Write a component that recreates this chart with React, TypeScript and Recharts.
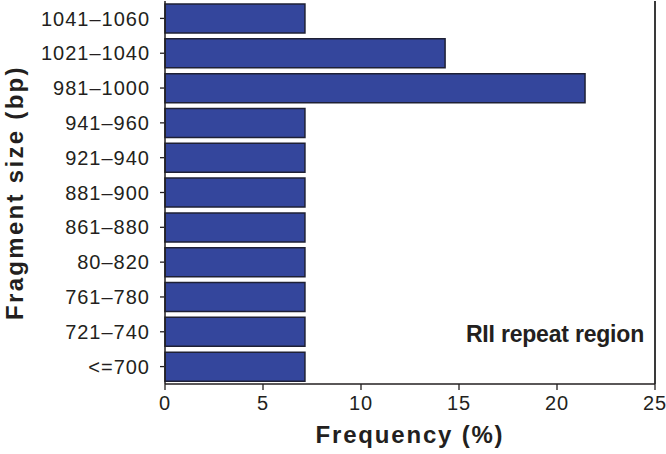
import React from 'react';
import { BarChart, Bar, XAxis, YAxis, ReferenceLine } from 'recharts';

const categories = ['1041–1060', '1021–1040', '981–1000', '941–960', '921–940', '881–900', '861–880', '80–820', '761–780', '721–740', '<=700'];
const frequency = [7.14, 14.29, 21.43, 7.14, 7.14, 7.14, 7.14, 7.14, 7.14, 7.14, 7.14];
const xMajorTicks = [0, 5, 10, 15, 20, 25];
const xMinorTicks = [0, 1, 2, 3, 4, 5, 6, 7, 8, 9, 10, 11, 12, 13, 14, 15, 16, 17, 18, 19, 20, 21, 22, 23, 24, 25];
const boundaryTicks = [0, 1, 2, 3, 4, 5, 6, 7, 8, 9, 10, 11];

const data = categories.map((c, i) => ({ range: c, freq: frequency[i] }));

const INK = '#231f20';
const FONT = '"Liberation Sans", Arial, Helvetica, sans-serif';

export default function App() {
  return (
    <div style={{ position: 'absolute', left: 0, top: 0, width: 666, height: 454, background: '#fff', fontFamily: FONT }}>
      <BarChart
        width={666}
        height={454}
        data={data}
        layout="vertical"
        margin={{ top: 1, right: 11, bottom: 0, left: 0 }}
      >
        <XAxis
          xAxisId="minor"
          type="number"
          domain={[0, 25]}
          ticks={xMinorTicks}
          height={1}
          axisLine={false}
          tick={false}
          tickSize={3}
          tickLine={{ stroke: INK, strokeWidth: 1.3 }}
        />
        <XAxis
          xAxisId="main"
          type="number"
          domain={[0, 25]}
          ticks={xMajorTicks}
          height={69}
          tickSize={6}
          tickMargin={6}
          axisLine={{ stroke: INK, strokeWidth: 1.5 }}
          tickLine={{ stroke: INK, strokeWidth: 1.3 }}
          tick={{ fill: INK, fontSize: 20, fontFamily: FONT, style: { letterSpacing: '1px' } }}
          label={{
            value: 'Frequency (%)',
            position: 'insideBottom',
            offset: 10,
            fill: INK,
            fontSize: 24,
            fontWeight: 'bold',
            fontFamily: FONT,
            style: { letterSpacing: '1.8px' },
          }}
        />
        <YAxis
          yAxisId="bnd"
          type="number"
          domain={[0, 11]}
          ticks={boundaryTicks}
          width={1}
          tick={false}
          tickSize={6}
          axisLine={{ stroke: INK, strokeWidth: 1.5 }}
          tickLine={{ stroke: INK, strokeWidth: 1.3 }}
        />
        <YAxis
          yAxisId="cat"
          type="category"
          dataKey="range"
          width={164}
          tickSize={4}
          tickMargin={10}
          axisLine={false}
          tickLine={{ stroke: INK, strokeWidth: 1.3 }}
          tick={{ fill: INK, fontSize: 20, fontFamily: FONT, style: { letterSpacing: '1px' } }}
          interval={0}
          label={{
            value: 'Fragment size (bp)',
            angle: -90,
            position: 'center',
            dx: -68,
            fill: INK,
            fontSize: 24,
            fontWeight: 'bold',
            fontFamily: FONT,
            style: { letterSpacing: '2.3px' },
          }}
        />
        <ReferenceLine x={25} xAxisId="main" yAxisId="cat" stroke="#3a3a3a" strokeWidth={2} />
        <ReferenceLine y={11} xAxisId="main" yAxisId="bnd" stroke="#3a3a3a" strokeWidth={2} />
        <Bar
          dataKey="freq"
          xAxisId="main"
          yAxisId="cat"
          barSize={29}
          fill="#34469c"
          stroke="#1e2035"
          strokeWidth={1.5}
          isAnimationActive={false}
        />
      </BarChart>
      <div
        style={{
          position: 'absolute',
          left: 0,
          top: 323,
          width: 644,
          textAlign: 'right',
          fontSize: 23,
          lineHeight: '23px',
          fontWeight: 'bold',
          color: INK,
          fontFamily: FONT,
          letterSpacing: '-0.2px',
        }}
      >
        RII repeat region
      </div>
    </div>
  );
}
